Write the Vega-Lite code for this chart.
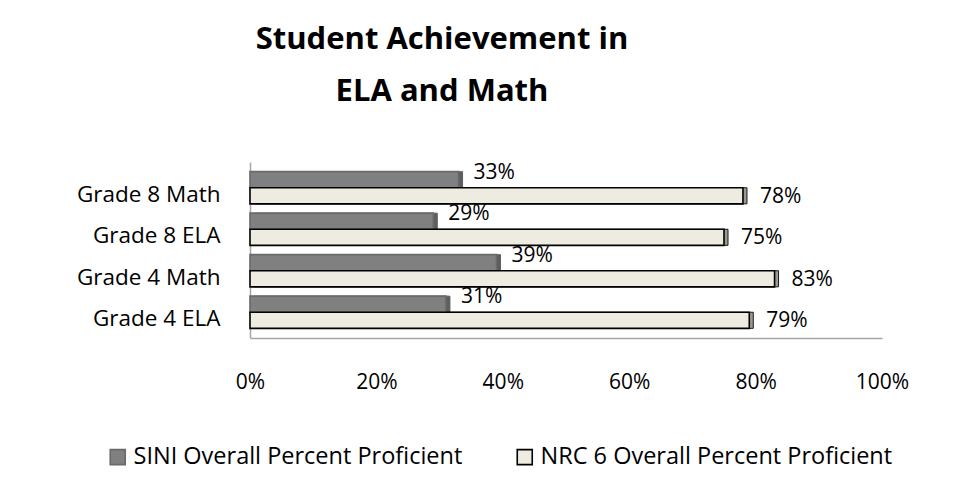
{
  "$schema": "https://vega.github.io/schema/vega-lite/v6.json",
  "width": 632,
  "height": 176,
  "autosize": {"type": "none"},
  "padding": {"left": 250, "top": 162, "right": 94, "bottom": 149},
  "background": "white",
  "config": {
    "font": "Open Sans",
    "view": {"stroke": null},
    "axis": {"labelFont": "Open Sans", "labelColor": "#000000", "grid": false, "ticks": false}
  },
  "title": {
    "text": ["Student Achievement in", "ELA and Math"],
    "font": "Open Sans",
    "fontSize": 31,
    "fontWeight": "bold",
    "lineHeight": 52,
    "anchor": "middle",
    "dx": -124,
    "offset": 54,
    "color": "#000000"
  },
  "data": {
    "values": [
      {"Category": "Grade 8 Math", "Series": "SINI  Overall Percent Proficient", "Value": 0.33},
      {"Category": "Grade 8 Math", "Series": "NRC 6  Overall Percent Proficient", "Value": 0.78},
      {"Category": "Grade 8 ELA", "Series": "SINI  Overall Percent Proficient", "Value": 0.29},
      {"Category": "Grade 8 ELA", "Series": "NRC 6  Overall Percent Proficient", "Value": 0.75},
      {"Category": "Grade 4 Math", "Series": "SINI  Overall Percent Proficient", "Value": 0.39},
      {"Category": "Grade 4 Math", "Series": "NRC 6  Overall Percent Proficient", "Value": 0.83},
      {"Category": "Grade 4 ELA", "Series": "SINI  Overall Percent Proficient", "Value": 0.31},
      {"Category": "Grade 4 ELA", "Series": "NRC 6  Overall Percent Proficient", "Value": 0.79}
    ]
  },
  "encoding": {
    "y": {
      "field": "Category",
      "type": "nominal",
      "sort": ["Grade 8 Math", "Grade 8 ELA", "Grade 4 Math", "Grade 4 ELA"],
      "scale": {"paddingInner": 0.225, "paddingOuter": 0.233},
      "axis": {
        "title": null,
        "labelFontSize": 22.5,
        "labelPadding": 30,
        "labelOffset": 7,
        "domainColor": "#a6a6a6",
        "domainWidth": 1.5
      }
    },
    "yOffset": {
      "field": "Series",
      "type": "nominal",
      "sort": ["SINI  Overall Percent Proficient", "NRC 6  Overall Percent Proficient"]
    },
    "x": {
      "field": "Value",
      "type": "quantitative",
      "scale": {"domain": [0, 1]},
      "axis": {
        "title": null,
        "format": ".0%",
        "values": [0, 0.2, 0.4, 0.6, 0.8, 1],
        "labelFontSize": 21,
        "labelPadding": 33,
        "labelFlush": false,
        "domainColor": "#a6a6a6",
        "domainWidth": 1.5
      }
    }
  },
  "layer": [
    {
      "mark": {"type": "bar", "xOffset": 4, "yOffset": -4, "strokeWidth": 1},
      "encoding": {
        "fill": {
          "condition": {"test": "datum.Series == 'SINI  Overall Percent Proficient'", "value": "#5e5e5e"},
          "value": "#9b9a92"
        },
        "stroke": {
          "condition": {"test": "datum.Series == 'SINI  Overall Percent Proficient'", "value": "#5e5e5e"},
          "value": "#1a1a1a"
        }
      }
    },
    {
      "mark": {"type": "bar", "strokeWidth": 1.6},
      "encoding": {
        "color": {
          "field": "Series",
          "type": "nominal",
          "sort": ["SINI  Overall Percent Proficient", "NRC 6  Overall Percent Proficient"],
          "scale": {"range": ["#808080", "#EEECE1"]},
          "legend": {
            "orient": "none",
            "legendX": -144,
            "legendY": 283,
            "direction": "horizontal",
            "title": null,
            "symbolType": "square",
            "symbolSize": 225,
            "symbolStrokeWidth": 1.6,
            "labelFontSize": 23.5,
            "labelFont": "Open Sans",
            "labelColor": "#000000",
            "labelOffset": 4,
            "columnPadding": 44,
            "labelLimit": 500,
            "encode": {
              "symbols": {
                "update": {
                  "stroke": {"scale": "stroke", "field": "value"},
                  "strokeWidth": {"value": 1.6}
                }
              }
            }
          }
        },
        "stroke": {
          "field": "Series",
          "type": "nominal",
          "sort": ["SINI  Overall Percent Proficient", "NRC 6  Overall Percent Proficient"],
          "scale": {"range": ["#6a6a6a", "#000000"]},
          "legend": null
        }
      }
    },
    {
      "transform": [{"filter": "datum.Series == 'SINI  Overall Percent Proficient'"}],
      "mark": {"type": "text", "align": "left", "baseline": "middle", "dx": 15, "dy": -7, "fontSize": 21, "font": "Open Sans", "color": "#000000"},
      "encoding": {"text": {"field": "Value", "type": "quantitative", "format": ".0%"}}
    },
    {
      "transform": [{"filter": "datum.Series == 'NRC 6  Overall Percent Proficient'"}],
      "mark": {"type": "text", "align": "left", "baseline": "middle", "dx": 17, "dy": 1, "fontSize": 21, "font": "Open Sans", "color": "#000000"},
      "encoding": {"text": {"field": "Value", "type": "quantitative", "format": ".0%"}}
    }
  ]
}
